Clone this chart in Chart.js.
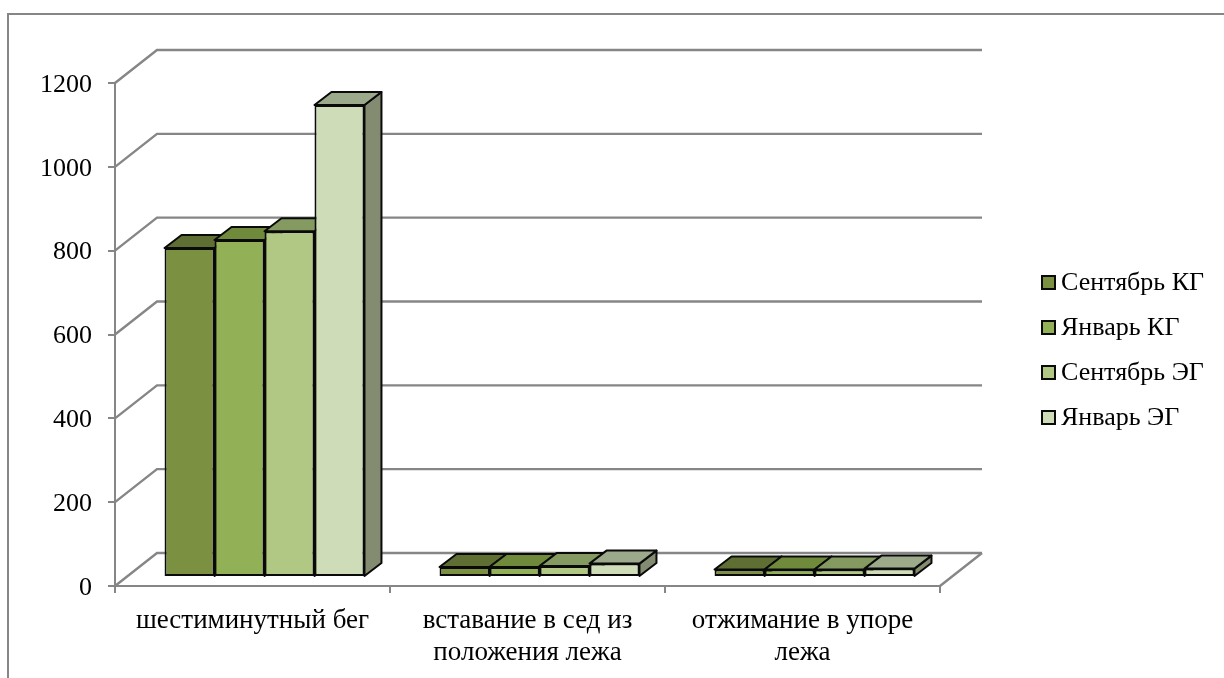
<!DOCTYPE html>
<html lang="ru">
<head>
<meta charset="utf-8">
<title>Результаты тестов</title>
<script src="https://cdn.jsdelivr.net/npm/chart.js@4/dist/chart.umd.min.js"></script>
<style>
  html, body { margin: 0; padding: 0; background: #fff; }
  canvas { display: block; }
</style>
</head>
<body>
<canvas id="chart" width="1224" height="678"></canvas>
<script>
const categories = [
  'шестиминутный бег',
  ['вставание в сед из', 'положения лежа'],
  ['отжимание в упоре', 'лежа'],
];
const seriesNames = ['Сентябрь КГ', 'Январь КГ', 'Сентябрь ЭГ', 'Январь ЭГ'];
const sepControl = [785, 24, 18];
const janControl = [804, 24, 18];
const sepExper   = [825, 26, 18];
const janExper   = [1126, 32, 20];
const yTicks = [0, 200, 400, 600, 800, 1000, 1200];

const seriesValues = [sepControl, janControl, sepExper, janExper];

const FRONT = ['#7b9040', '#92b056', '#b0c883', '#cfdcb8'];
const TOP   = ['#5f6f33', '#6f8a3b', '#849a60', '#9ca98a'];
const SIDE  = ['#4f5d2a', '#5f7432', '#6f8250', '#838b70'];
const AXIS  = '#868686';
const EDGE  = '#0a0a0a';
const FONT  = '"Liberation Serif", "Times New Roman", serif';

// стенки короба и смещение столбцов внутри него
const WALL_DX = 42, WALL_DY = -33;
const BAR_DX = 12, BAR_DY = -9;
const DEPTH_DX = 17, DEPTH_DY = -13;

const poly = (ctx, pts, fill) => {
  ctx.beginPath();
  pts.forEach((p, i) => i ? ctx.lineTo(p[0], p[1]) : ctx.moveTo(p[0], p[1]));
  ctx.closePath();
  ctx.fillStyle = fill;
  ctx.fill();
  ctx.stroke();
};

const frame = {
  id: 'frame',
  beforeDraw(chart) {
    const { ctx } = chart;
    ctx.save();
    ctx.strokeStyle = AXIS;
    ctx.lineWidth = 2;
    ctx.beginPath();
    ctx.moveTo(8, 678);
    ctx.lineTo(8, 14);
    ctx.lineTo(1224, 14);
    ctx.stroke();
    ctx.restore();
  },
};

// псевдо-3D: линии сетки на стенках, верх и бок столбцов
const box3d = {
  id: 'box3d',
  beforeDatasetsDraw(chart) {
    const { ctx, chartArea: { left, right }, scales: { y } } = chart;
    ctx.save();
    ctx.strokeStyle = AXIS;
    ctx.lineWidth = 2.4;
    y.ticks.forEach(t => {
      const py = y.getPixelForValue(t.value);
      ctx.beginPath();
      ctx.moveTo(left, py);
      ctx.lineTo(left + WALL_DX, py + WALL_DY);
      ctx.lineTo(right + WALL_DX, py + WALL_DY);
      ctx.stroke();
    });
    const y0 = y.getPixelForValue(0);
    ctx.beginPath();
    ctx.moveTo(right, y0);
    ctx.lineTo(right + WALL_DX, y0 + WALL_DY);
    ctx.stroke();

    ctx.translate(BAR_DX, BAR_DY);
    ctx.strokeStyle = EDGE;
    ctx.lineWidth = 2;
    ctx.lineJoin = 'round';
    categories.forEach((_, c) => {
      chart.data.datasets.forEach((ds, d) => {
        const bar = chart.getDatasetMeta(d).data[c];
        const l = bar.x - bar.width / 2, r = bar.x + bar.width / 2;
        poly(ctx, [[r, bar.y], [r + DEPTH_DX, bar.y + DEPTH_DY], [r + DEPTH_DX, bar.base + DEPTH_DY], [r, bar.base]], SIDE[d]);
        poly(ctx, [[l, bar.y], [l + DEPTH_DX, bar.y + DEPTH_DY], [r + DEPTH_DX, bar.y + DEPTH_DY], [r, bar.y]], TOP[d]);
      });
    });
    // передние грани рисует сама библиотека, в этом же смещении
  },
  afterDatasetsDraw(chart) {
    chart.ctx.restore();
  },
};

const sideLegend = {
  id: 'sideLegend',
  afterDraw(chart) {
    const { ctx } = chart;
    ctx.save();
    ctx.font = `26px ${FONT}`;
    ctx.textBaseline = 'middle';
    seriesNames.forEach((name, i) => {
      const cy = 282 + i * 45;
      ctx.fillStyle = FRONT[i];
      ctx.strokeStyle = EDGE;
      ctx.lineWidth = 2;
      ctx.fillRect(1042, cy - 6, 13, 13);
      ctx.strokeRect(1042, cy - 6, 13, 13);
      ctx.fillStyle = '#000';
      ctx.fillText(name, 1061, cy + 1);
    });
    ctx.restore();
  },
};

new Chart(document.getElementById('chart'), {
  type: 'bar',
  data: {
    labels: categories,
    datasets: seriesNames.map((label, i) => ({
      label,
      data: seriesValues[i],
      backgroundColor: FRONT[i],
      borderColor: EDGE,
      borderWidth: 2,
      borderSkipped: false,
      clip: false,
    })),
  },
  plugins: [frame, box3d, sideLegend],
  options: {
    responsive: false,
    animation: false,
    categoryPercentage: 0.727,
    barPercentage: 1,
    layout: { padding: { left: 0, top: 83, right: 284, bottom: 0 } },
    plugins: { legend: { display: false }, tooltip: { enabled: false } },
    scales: {
      x: {
        afterFit: s => { s.height = 92; },
        grid: { offset: true, drawOnChartArea: false, color: AXIS, lineWidth: 2, tickLength: 7 },
        border: { color: AXIS, width: 2 },
        ticks: {
          color: '#000',
          font: { family: FONT, size: 27, lineHeight: 1.185 },
          padding: 12,
          maxRotation: 0,
          autoSkip: false,
        },
      },
      y: {
        min: 0,
        max: 1200,
        afterFit: s => { s.width = 115; },
        afterBuildTicks: s => { s.ticks = yTicks.map(value => ({ value })); },
        grid: { drawOnChartArea: false, color: AXIS, lineWidth: 2, tickLength: 7 },
        border: { color: AXIS, width: 2 },
        ticks: {
          color: '#000',
          font: { family: FONT, size: 26 },
          padding: 16,
          labelOffset: 2,
          callback: v => String(v),
        },
      },
    },
  },
});
</script>
</body>
</html>
